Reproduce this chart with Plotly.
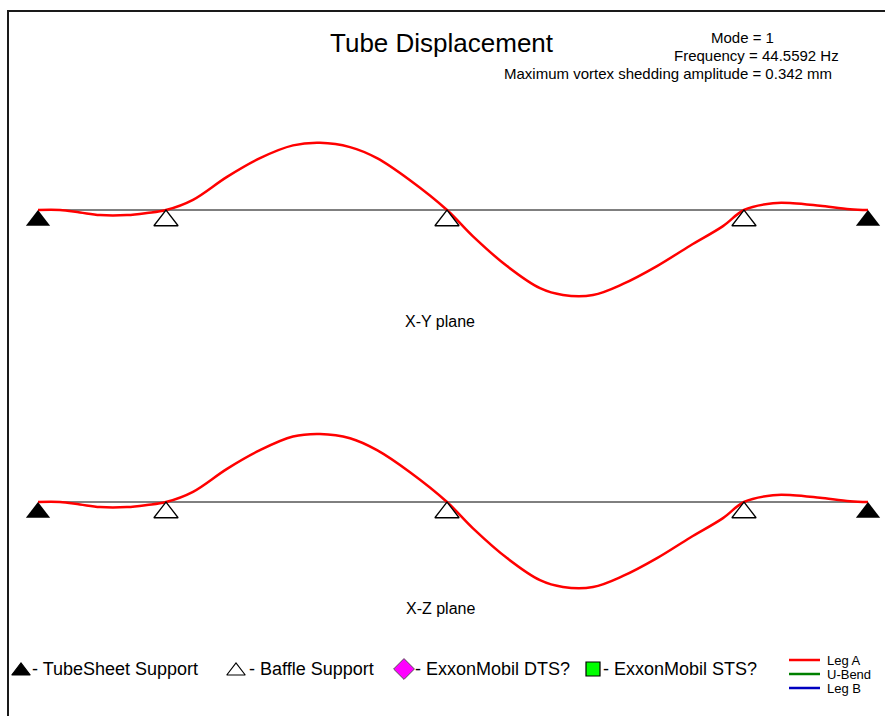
import plotly.graph_objects as go

# Support stations along the tube (mm from the left tubesheet)
tubesheet_x = [0, 8300]
baffle_x = [1280, 4090, 7060]

# Mode shape sample stations (mm) and normalised displacements
station_x = [0, 220, 420, 620, 890, 1090, 1280, 1550, 1890, 2220, 2550, 2820,
             3120, 3390, 3720, 4090, 4350, 4690, 5020, 5250, 5550, 5850, 6190,
             6520, 6850, 7060, 7350, 7550, 7820, 8120, 8300]
disp_xy = [0, 0, -0.03, -0.06, -0.06, -0.035, 0, 0.12, 0.39, 0.61, 0.76, 0.79,
           0.74, 0.61, 0.35, 0, -0.31, -0.66, -0.92, -1.0, -1.0, -0.87, -0.66,
           -0.42, -0.19, 0, 0.08, 0.08, 0.05, 0.01, 0]
disp_xz = [0, 0, -0.03, -0.06, -0.06, -0.035, 0, 0.12, 0.39, 0.61, 0.77, 0.80,
           0.75, 0.61, 0.35, 0, -0.31, -0.66, -0.92, -1.0, -1.0, -0.87, -0.66,
           -0.42, -0.19, 0, 0.08, 0.08, 0.05, 0.01, 0]

mode_no = 1
frequency_hz = 44.5592
max_amp_mm = 0.342

W, H = 885, 716
FONT = "Arial, Liberation Sans, sans-serif"

# pixel geometry of the two panels
x_px0, x_px_per_mm = 38, 0.1
px_per_unit = 85
base_top, base_bot = 210, 502
tri = 21  # support triangle size

fig = go.Figure()

def panel(disp, xa, ya):
    fig.add_trace(go.Scatter(x=[tubesheet_x[0], tubesheet_x[-1]], y=[0, 0], mode="lines",
                             line=dict(color="black", width=1), xaxis=xa, yaxis=ya,
                             showlegend=False, hoverinfo="skip"))
    fig.add_trace(go.Scatter(x=station_x, y=disp, mode="lines", line_shape="spline",
                             line=dict(color="#ff0000", width=2.5), xaxis=xa, yaxis=ya,
                             name="Leg A", showlegend=False))
    off = -(tri / 2) / px_per_unit
    fig.add_trace(go.Scatter(x=tubesheet_x, y=[off] * len(tubesheet_x), mode="markers",
                             marker=dict(symbol="triangle-up", size=tri, color="black"),
                             xaxis=xa, yaxis=ya, showlegend=False, hoverinfo="skip"))
    fig.add_trace(go.Scatter(x=baffle_x, y=[off] * len(baffle_x), mode="markers",
                             marker=dict(symbol="triangle-up", size=tri, color="white",
                                         line=dict(color="black", width=1.3)),
                             xaxis=xa, yaxis=ya, showlegend=False, hoverinfo="skip"))

panel(disp_xy, "x", "y")
panel(disp_xz, "x2", "y2")

# legend symbols drawn on a full-page overlay axis in pixel units
fig.add_trace(go.Scatter(
    x=[21, 236], y=[671, 671], mode="markers", xaxis="x3", yaxis="y3",
    marker=dict(symbol="triangle-up", size=16, color=["black", "white"],
                line=dict(color="black", width=1.2)),
    showlegend=False, hoverinfo="skip"))
fig.add_trace(go.Scatter(
    x=[404], y=[669], mode="markers", xaxis="x3", yaxis="y3",
    marker=dict(symbol="diamond", size=16, color="#ff00ff", line=dict(color="#555", width=1)),
    showlegend=False, hoverinfo="skip"))
fig.add_trace(go.Scatter(
    x=[593], y=[669], mode="markers", xaxis="x3", yaxis="y3",
    marker=dict(symbol="square", size=14, color="#00ff00", line=dict(color="black", width=1.2)),
    showlegend=False, hoverinfo="skip"))
leg_rows = [("Leg A", "#ff0000", 660), ("U-Bend", "#008000", 674), ("Leg B", "#0000c0", 688)]
for _, col, yy in leg_rows:
    fig.add_trace(go.Scatter(x=[789, 820], y=[yy, yy], mode="lines", xaxis="x3", yaxis="y3",
                             line=dict(color=col, width=2.5), showlegend=False, hoverinfo="skip"))

def xr(lo_px, hi_px):
    return [(lo_px - x_px0) / x_px_per_mm, (hi_px - x_px0) / x_px_per_mm]

def yr(base, top_px, bot_px):
    return [(base - bot_px) / px_per_unit, (base - top_px) / px_per_unit]

ax_off = dict(visible=False, showgrid=False, zeroline=False, fixedrange=True)
fig.update_layout(
    width=W, height=H, margin=dict(l=0, r=0, t=0, b=0),
    paper_bgcolor="white", plot_bgcolor="rgba(0,0,0,0)",
    xaxis=dict(domain=[0, 1], range=xr(0, W), anchor="y", **ax_off),
    yaxis=dict(domain=[0.5, 1], range=yr(base_top, 0, H / 2), anchor="x", **ax_off),
    xaxis2=dict(domain=[0, 1], range=xr(0, W), anchor="y2", **ax_off),
    yaxis2=dict(domain=[0, 0.5], range=yr(base_bot, H / 2, H), anchor="x2", **ax_off),
    xaxis3=dict(domain=[0, 1], range=[0, W], anchor="y3", **ax_off),
    yaxis3=dict(domain=[0, 1], range=[H, 0], anchor="x3", **ax_off),
    showlegend=False,
    font=dict(family=FONT, color="black"),
)

def px_note(text, x, y, size, xanchor="left"):
    fig.add_annotation(text=text, x=x / W, y=1 - y / H, xref="paper", yref="paper",
                       xanchor=xanchor, yanchor="middle", showarrow=False, borderpad=0,
                       font=dict(size=size, family=FONT, color="black"))

px_note("Tube Displacement", 442, 43, 26, "center")
px_note(f"Mode = {mode_no}", 742, 37, 15, "center")
px_note(f"Frequency = {frequency_hz} Hz", 756, 55, 15, "center")
px_note(f"Maximum vortex shedding amplitude = {max_amp_mm} mm", 668, 73, 15, "center")
px_note("X-Y plane", 440, 321, 16, "center")
px_note("X-Z plane", 440, 608, 16, "center")
px_note("- TubeSheet Support", 31, 669, 18)
px_note("- Baffle Support", 248, 669, 18)
px_note("- ExxonMobil DTS?", 414, 669, 18)
px_note("- ExxonMobil STS?", 602, 669, 18)
for label, _, yy in leg_rows:
    px_note(label, 826, yy, 13)

# window frame
fig.add_shape(type="rect", xref="paper", yref="paper", x0=8 / W, x1=1.02, y0=-0.02,
              y1=1 - 11 / H, line=dict(color="#1a1a1a", width=2))

fig.write_html("out.html")
